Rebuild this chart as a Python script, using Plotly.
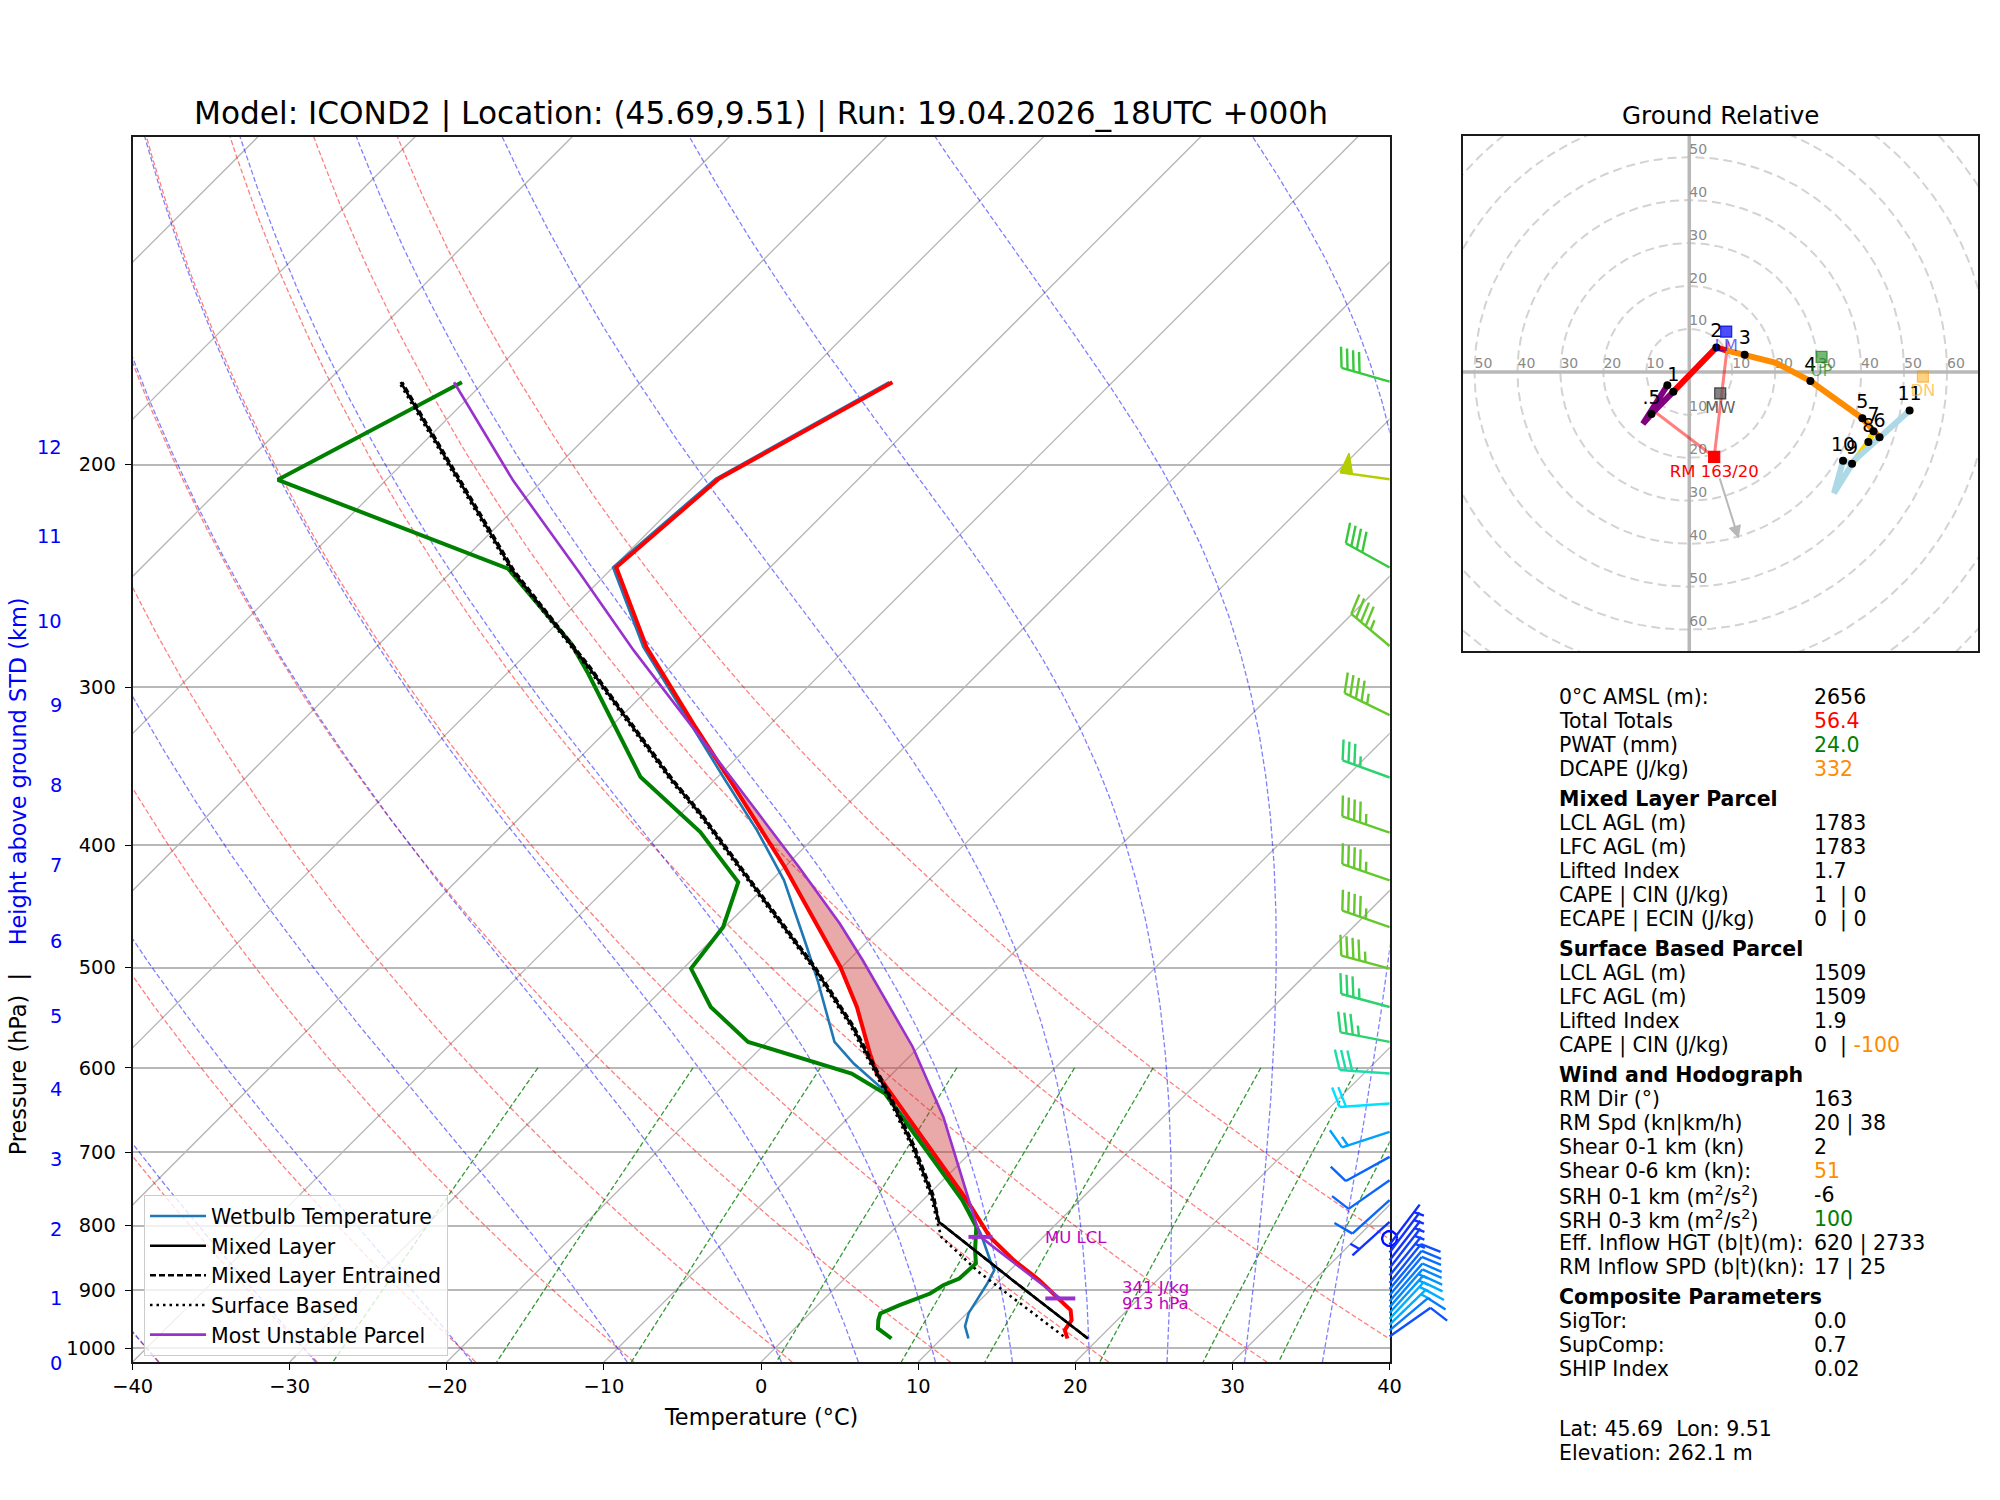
import numpy as np
import plotly.graph_objects as go

# ===================== values =====================
# environment profiles (pressure hPa, temperature degC)
temp_p = [982.5, 967.7, 950.3, 933.1, 916.3, 883.5, 851.9, 816.5, 763.7, 701.5,
          628.5, 606.3, 584.7, 537.1, 499.3, 416.2, 355.4, 322.5, 278.8, 241.1,
          205.2, 172.1]
temp_t = [18.0, 17.3, 17.1, 16.4, 15.1, 12.5, 9.6, 6.6, 2.8, -2.3,
          -8.9, -11.0, -12.7, -16.5, -20.1, -30.0, -39.0, -44.6, -52.8, -59.8,
          -58.9, -54.0]
dew_p = [982.5, 964.7, 950.3, 938.7, 924.7, 905.2, 891.6, 880.8, 857.0, 836.5,
         801.8, 763.7, 701.5, 628.9, 606.3, 572.4, 537.1, 500.8, 464.3, 427.8,
         390.5, 353.3, 292.7, 277.1, 241.7, 205.6, 172.1]
dew_t = [6.8, 5.3, 4.8, 4.5, 5.2, 6.4, 6.7, 7.3, 7.4, 6.5,
         5.1, 2.5, -2.6, -9.2, -12.6, -21.2, -25.8, -29.5, -30.1, -32.0,
         -37.6, -44.9, -54.8, -57.8, -66.6, -86.9, -81.4]
wb_p = [982.5, 960.7, 938.2, 916.3, 888.8, 867.6, 851.9, 811.5, 763.7, 701.5,
        623.2, 595.4, 572.4, 511.6, 481.5, 426.4, 389.3, 355.4, 322.5, 278.8,
        241.1, 205.2, 172.1]
wb_t = [11.7, 10.7, 10.1, 9.8, 9.4, 9.0, 8.1, 5.8, 2.6, -2.4,
        -9.7, -13.1, -15.7, -20.7, -23.5, -29.2, -34.1, -39.3, -44.8, -53.0,
        -60.0, -59.1, -54.2]

# parcels
ml_p = [982.5, 883.5, 794.5, 759.1, 693.1, 632.8, 557.0, 499.3, 434.3, 377.6,
        355.4, 289.2, 242.5, 200.9, 172.1]
ml_t = [19.3, 10.8, 2.4, 0.4, -4.0, -8.7, -15.5, -21.8, -30.3, -38.8,
        -42.7, -55.2, -66.2, -76.7, -85.3]
mle_p = [982.5, 883.5, 794.5, 759.1, 693.1, 632.8, 557.0, 499.3, 434.3, 377.6,
         355.4, 289.2, 242.5, 200.9, 172.1]
mle_t = [19.3, 10.8, 2.4, 0.5, -3.9, -8.6, -15.4, -21.7, -30.2, -38.7,
         -42.6, -55.1, -66.1, -76.6, -85.2]
sb_p = [978.4, 870.2, 816.5, 794.5, 759.1, 693.1, 632.8, 557.0, 499.3, 434.3,
        377.6, 355.4, 289.2, 242.5, 200.9, 172.1]
sb_t = [17.6, 8.1, 3.5, 2.3, 0.3, -4.1, -8.8, -15.6, -21.9, -30.4,
        -38.9, -42.8, -55.3, -66.3, -76.8, -85.4]
mu_p = [913.4, 816.5, 768.3, 656.2, 577.7, 493.3, 461.4, 416.2, 355.4, 280.5,
        243.9, 205.8, 172.1]
mu_t = [15.0, 6.0, 3.2, -4.0, -10.4, -19.1, -22.9, -29.1, -38.8, -53.4,
        -61.7, -71.9, -81.9]
mu_lcl_p = 816.5
mu_label_lcl = "MU LCL"
mu_label_cape = "341 J/kg"
mu_label_p = "913 hPa"

# wind barbs (pressure hPa, speed kn, direction deg)
barb_p = [171.9, 205.4, 241.2, 278.3, 315.6, 353.6, 391.0, 426.5, 464.3, 500.8,
          537.1, 572.4, 606.3, 640.4, 674.4, 705.7, 736.4, 763.7, 794.5, 818.9,
          828, 840, 852, 864, 876, 888, 898, 908, 918, 928, 938, 948, 958, 968, 979]
barb_spd = [40, 50, 40, 45, 45, 35, 45, 45, 45, 45,
            35, 35, 30, 20, 15, 10, 10, 10, 5, 0,
            4, 5, 5, 6, 7, 8, 10, 11, 12, 13, 14, 16, 16, 12, 8]
barb_dir = [286, 278, 299, 310, 296, 290, 289, 289, 289, 285,
            285, 281, 274, 266, 252, 241, 235, 228, 228, 0,
            37, 37, 38, 38, 39, 39, 40, 40, 41, 41, 42, 43, 46, 50, 55]

# height labels (km above ground, std atmosphere) and their pressure
height_km = [0, 1, 2, 3, 4, 5, 6, 7, 8, 9, 10, 11, 12]
height_p = [1028, 914, 806, 709, 624, 547, 477, 415, 359, 310, 266, 228, 194]

# hodograph (height km, u kn, v kn)
hodo_h = [0, 0.25, 0.5, 1, 1.5, 2, 2.5, 3, 3.5, 4, 5, 6, 7, 8, 9, 10, 10.5, 10.75, 11]
hodo_u = [-5.1, -10.8, -8.8, -3.7, 1.9, 6.3, 8.6, 12.9, 20.2, 28.2, 40.3, 44.3, 42.9, 41.7,
          37.9, 35.8, 33.7, 38.5, 51.3]
hodo_v = [-3.1, -12.1, -9.8, -4.6, 1.3, 5.7, 5.0, 4.0, 2.1, -2.1, -10.8, -15.2, -13.8, -16.3,
          -21.4, -20.7, -28.2, -20.5, -9.0]
hodo_dot_h = [0, 0.5, 1, 2, 3, 4, 5, 6, 7, 8, 9, 10, 11]
hodo_dot_lab = ["", ".5", "1", "2", "3", "4", "5", "6", "7", "8", "9", "10", "11"]
hodo_layers_h = [0, 1, 2.5, 7, 9, 11]
hodo_layers_c = ["#800080", "#ff0000", "#ff8c00", "#ffd700", "#add8e6"]

storm_names = ["RM", "LM", "MW", "UP", "DN"]
storm_u = [5.8, 8.6, 7.2, 30.8, 54.4]
storm_v = [-19.8, 9.4, -5.0, 3.5, -1.1]
rm_text = "RM 163/20"
inflow_u = [-8.1, 9.0]
inflow_v = [-9.2, 7.1]
dev_u = [6.9, 11.5]
dev_v = [-24.2, -38.8]

stat_rows = [
    ("0°C AMSL (m):", "2656", "black"),
    ("Total Totals", "56.4", "#ff0000"),
    ("PWAT (mm)", "24.0", "#008000"),
    ("DCAPE (J/kg)", "332", "#ff8c00"),
    ("<b>Mixed Layer Parcel</b>", "", None),
    ("LCL AGL (m)", "1783", "black"),
    ("LFC AGL (m)", "1783", "black"),
    ("Lifted Index", "1.7", "black"),
    ("CAPE | CIN (J/kg)", "1\u00a0\u00a0| 0", "black"),
    ("ECAPE | ECIN (J/kg)", "0\u00a0\u00a0| 0", "black"),
    ("<b>Surface Based Parcel</b>", "", None),
    ("LCL AGL (m)", "1509", "black"),
    ("LFC AGL (m)", "1509", "black"),
    ("Lifted Index", "1.9", "black"),
    ("CAPE | CIN (J/kg)", "0\u00a0\u00a0| <span style='color:#ff8c00'>-100</span>", "black"),
    ("<b>Wind and Hodograph</b>", "", None),
    ("RM Dir (°)", "163", "black"),
    ("RM Spd (kn|km/h)", "20 | 38", "black"),
    ("Shear 0-1 km (kn)", "2", "black"),
    ("Shear 0-6 km (kn):", "51", "#ff8c00"),
    ("SRH 0-1 km (m<sup>2</sup>/s<sup>2</sup>)", "-6", "black"),
    ("SRH 0-3 km (m<sup>2</sup>/s<sup>2</sup>)", "100", "#008000"),
    ("Eff. Inflow HGT (b|t)(m):", "620 | 2733", "black"),
    ("RM Inflow SPD (b|t)(kn):", "17 | 25", "black"),
    ("<b>Composite Parameters</b>", "", None),
    ("SigTor:", "0.0", "black"),
    ("SupComp:", "0.7", "black"),
    ("SHIP Index", "0.02", "black"),
]
foot_rows = ["Lat: 45.69\u00a0\u00a0Lon: 9.51", "Elevation: 262.1 m"]
title_text = "Model: ICOND2 | Location: (45.69,9.51) | Run: 19.04.2026_18UTC +000h"

dry_t0 = list(range(-40, 51, 10))
moist_t0 = [-40, -30, -20, -10, 0, 5, 10, 15, 20, 25, 30, 35, 40]
mix_w = [0.0004, 0.001, 0.002, 0.004, 0.007, 0.01, 0.016, 0.024, 0.032]
x_ticks = list(range(-40, 41, 10))
p_ticks = [1000, 900, 800, 700, 600, 500, 400, 300, 200]

# ===================== geometry =====================
W, H = 2000, 1500
FONT = "DejaVu Sans"
AX_L, AX_R, AX_T, AX_B = 132.6, 1389.6, 136.5, 1362.0
P_BOT, P_TOP = 1025.5, 110.0
TMIN, TMAX = -40.0, 40.0
PX_DEG = (AX_R - AX_L) / (TMAX - TMIN)
PX_LN = (AX_B - AX_T) / np.log(P_BOT / P_TOP)
SKEW = PX_LN / PX_DEG
HX_L, HX_R, HY_T, HY_B = 1462.5, 1977.9, 135.7, 651.1
HALF = 60.0
STAT_LX, STAT_VX = 1557.0, 1811.5


def skx(t, p):
    return np.asarray(t, float) + SKEW * np.log(P_BOT / np.asarray(p, float))


def pix_y(p):
    return AX_B - PX_LN * np.log(P_BOT / np.asarray(p, float))


def pix_x(t, p):
    return AX_L + (skx(t, p) - TMIN) * PX_DEG


def interp_prof(pp, tt, q):
    pp = np.asarray(pp, float)
    tt = np.asarray(tt, float)
    o = np.argsort(pp)
    return np.interp(np.log(q), np.log(pp[o]), tt[o])


fig = go.Figure()


def add_main(x, y, **kw):
    kw.setdefault("showlegend", False)
    fig.add_trace(go.Scatter(x=x, y=y, xaxis="x", yaxis="y", hoverinfo="skip", **kw))


def add_pix(x, y, **kw):
    fig.add_trace(go.Scatter(x=x, y=y, xaxis="x3", yaxis="y3", hoverinfo="skip",
                             showlegend=False, **kw))


def add_hodo(x, y, **kw):
    fig.add_trace(go.Scatter(x=x, y=y, xaxis="x2", yaxis="y2", hoverinfo="skip",
                             showlegend=False, **kw))


def joined(lines):
    xs, ys = [], []
    for lx, ly in lines:
        xs += list(lx) + [None]
        ys += list(ly) + [None]
    return xs, ys


# ---------- background: isotherms ----------
iso = []
for t in range(-160, 50, 10):
    iso.append(([skx(t, P_BOT), skx(t, P_TOP)], [P_BOT, P_TOP]))
x_, y_ = joined(iso)
add_main(x_, y_, mode="lines", line=dict(color="#b5b5b5", width=1.3))

pgrid = np.geomspace(P_BOT, P_TOP, 120)

# ---------- dry adiabats ----------
dry = []
for t0 in dry_t0:
    tt = (t0 + 273.15) * (pgrid / 1000.0) ** 0.2857 - 273.15
    dry.append((skx(tt, pgrid), pgrid))
x_, y_ = joined(dry)
add_main(x_, y_, mode="lines", line=dict(color="rgba(255,0,0,0.5)", width=1.3, dash="5px,2.5px"))

# ---------- moist adiabats ----------
Rd, Cp, Lv, EPS = 287.04749, 1005.7, 2.50084e6, 0.622


def es_hpa(T):
    return 6.112 * np.exp(17.67 * (T - 273.15) / (T - 29.65))


def dtdp(T, p):
    e = es_hpa(T)
    rs = EPS * e / (p - e)
    return (Rd * T + Lv * rs) / (Cp + Lv * Lv * rs * EPS / (Rd * T * T)) / p


def integrate(T0, ps):
    T = np.array(T0, float)
    out = [T.copy()]
    for i in range(1, len(ps)):
        p0, p1 = ps[i - 1], ps[i]
        h = p1 - p0
        k1 = dtdp(T, p0)
        k2 = dtdp(T + 0.5 * h * k1, p0 + 0.5 * h)
        k3 = dtdp(T + 0.5 * h * k2, p0 + 0.5 * h)
        k4 = dtdp(T + h * k3, p1)
        T = T + h / 6.0 * (k1 + 2 * k2 + 2 * k3 + k4)
        out.append(T.copy())
    return np.array(out)


T0 = np.array(moist_t0, float) + 273.15
p_up = np.geomspace(1000.0, P_TOP, 300)
p_dn = np.geomspace(1000.0, P_BOT, 10)
T_up = integrate(T0, p_up)
T_dn = integrate(T0, p_dn)
moist = []
for k in range(len(moist_t0)):
    pp = np.concatenate([p_dn[::-1], p_up[1:]])
    tt = np.concatenate([T_dn[::-1, k], T_up[1:, k]]) - 273.15
    moist.append((skx(tt, pp), pp))
x_, y_ = joined(moist)
add_main(x_, y_, mode="lines", line=dict(color="rgba(0,0,255,0.5)", width=1.3, dash="5px,2.5px"))

# ---------- mixing ratio lines ----------
pm = np.linspace(600, P_BOT, 40)
mix = []
for w in mix_w:
    e = pm * w / (EPS + w)
    lg = np.log(e / 6.112)
    td = 243.5 * lg / (17.67 - lg)
    mix.append((skx(td, pm), pm))
x_, y_ = joined(mix)
add_main(x_, y_, mode="lines", line=dict(color="rgba(0,128,0,0.8)", width=1.3, dash="5px,2.5px"))

# ---------- CAPE shading (MU parcel warmer than environment) ----------
pg = np.geomspace(900, 300, 400)
t_env = interp_prof(temp_p, temp_t, pg)
t_par = interp_prof(mu_p, mu_t, pg)
idx = np.where(t_par > t_env)[0]
if len(idx):
    seg = idx
    fx = list(skx(t_par[seg], pg[seg])) + list(skx(t_env[seg][::-1], pg[seg][::-1]))
    fy = list(pg[seg]) + list(pg[seg][::-1])
    add_main(fx, fy, mode="lines", fill="toself", fillcolor="rgba(205,50,50,0.42)",
             line=dict(width=0))

# ---------- profiles ----------
add_main(skx(wb_t, wb_p), wb_p, mode="lines", name="Wetbulb Temperature",
         line=dict(color="#1f77b4", width=2.6), showlegend=True)
add_main(skx(dew_t, dew_p), dew_p, mode="lines", line=dict(color="#008000", width=4))
add_main(skx(temp_t, temp_p), temp_p, mode="lines", line=dict(color="#ff0000", width=4))
add_main(skx(ml_t, ml_p), ml_p, mode="lines", name="Mixed Layer",
         line=dict(color="black", width=2.6), showlegend=True)
add_main(skx(mle_t, mle_p), mle_p, mode="lines", name="Mixed Layer Entrained",
         line=dict(color="black", width=2.6, dash="6px,3px"), showlegend=True)
add_main(skx(sb_t, sb_p), sb_p, mode="lines", name="Surface Based",
         line=dict(color="black", width=2.6, dash="2.5px,4px"), showlegend=True)
add_main(skx(mu_t, mu_p), mu_p, mode="lines", name="Most Unstable Parcel",
         line=dict(color="#9932cc", width=2.6), showlegend=True)

# ---------- MU markers ----------
t_lcl = float(interp_prof(mu_p, mu_t, [mu_lcl_p])[0])
xl, yl = float(pix_x(t_lcl, mu_lcl_p)), float(pix_y(mu_lcl_p))
xs0, ys0 = float(pix_x(mu_t[0], mu_p[0])), float(pix_y(mu_p[0]))
add_pix([xl - 12, xl + 12, None, xs0 - 15, xs0 + 15], [yl, yl, None, ys0, ys0],
        mode="lines", line=dict(color="#9932cc", width=4))

annotations = []


def ann(x, y, text, size, color="black", xanchor="center", yanchor="middle", **kw):
    annotations.append(dict(x=x / W, y=1 - y / H, xref="paper", yref="paper", text=text,
                            showarrow=False, xanchor=xanchor, yanchor=yanchor,
                            font=dict(family=FONT, size=size, color=color), **kw))


ann(xl + 63, yl + 1, mu_label_lcl, 16.5, "#c000c0", xanchor="left")
ann(xs0 + 60, ys0 - 11, mu_label_cape, 16.5, "#c000c0", xanchor="left")
ann(xs0 + 60, ys0 + 5.5, mu_label_p, 16.5, "#c000c0", xanchor="left")

# ---------- wind barbs ----------
BL = 50.0
stops_s = [0, 5, 10, 15, 20, 25, 30, 35, 40, 45, 50, 60]
stops_c = [(0, 16, 255), (20, 50, 255), (10, 100, 255), (0, 160, 255), (0, 225, 255),
           (0, 230, 210), (30, 220, 170), (45, 210, 110), (55, 200, 60), (100, 200, 45),
           (180, 205, 0), (230, 210, 0)]


def spd_color(s):
    s = min(max(s, 0), 60)
    r = np.interp(s, stops_s, [c[0] for c in stops_c])
    g = np.interp(s, stops_s, [c[1] for c in stops_c])
    b = np.interp(s, stops_s, [c[2] for c in stops_c])
    return "rgb(%d,%d,%d)" % (r, g, b)


for p, s, d in zip(barb_p, barb_spd, barb_dir):
    x0, y0 = AX_R, float(pix_y(p))
    col = spd_color(s)
    if s < 2.5:
        th = np.linspace(0, 2 * np.pi, 40)
        add_pix(x0 + 0.15 * BL * np.cos(th), y0 + 0.15 * BL * np.sin(th), mode="lines",
                line=dict(color=col, width=2.4))
        continue
    rad = np.radians(d)
    sx, sy = np.sin(rad), -np.cos(rad)
    nx, ny = np.cos(rad), np.sin(rad)

    def P(t, h):
        return (x0 + t * sx + h * nx, y0 + t * sy + h * ny)

    mag = 5 * np.round(s / 5.0)
    nflag = int(mag // 50)
    rem = mag - 50 * nflag
    nbarb = int(rem // 10)
    half = (rem - 10 * nbarb) >= 5
    fh, fw, sp = 0.4 * BL, 0.25 * BL, 0.125 * BL
    lines = [[P(0, 0), P(BL, 0)]]
    flags = []
    off = BL
    for i in range(nflag):
        if off != BL:
            off += sp / 2
        flags.append([P(off, 0), P(off - fw / 2, fh), P(off - fw, 0), P(off, 0)])
        off -= fw + sp
    for i in range(nbarb):
        lines.append([P(off, 0), P(off + fw / 2, fh)])
        off -= sp
    if half:
        if off == BL:
            off -= 1.5 * sp
        lines.append([P(off, 0), P(off + fw / 4, fh / 2)])
    lx, ly = [], []
    for ln in lines:
        lx += [q[0] for q in ln] + [None]
        ly += [q[1] for q in ln] + [None]
    add_pix(lx, ly, mode="lines", line=dict(color=col, width=2.4))
    for fl in flags:
        add_pix([q[0] for q in fl], [q[1] for q in fl], mode="lines", fill="toself",
                fillcolor=col, line=dict(color=col, width=1.5))

# ---------- hodograph ----------
th = np.linspace(0, 2 * np.pi, 361)
rings = [(r * np.cos(th), r * np.sin(th)) for r in range(10, 100, 10)]
x_, y_ = joined(rings)
add_hodo(x_, y_, mode="lines", line=dict(color="#d3d3d3", width=2, dash="9px,5px"))
add_hodo([-200, 200, None, 0, 0], [0, 0, None, -200, 200], mode="lines",
         line=dict(color="#b8b8b8", width=3.5))

rl_x, rl_y, rl_t = [], [], []
for r in range(10, 70, 10):
    for (ux, vy) in [(r, 0), (-r, 0), (0, r), (0, -r)]:
        if storm_u[2] - HALF < ux < storm_u[2] + HALF - 4 and storm_v[2] - HALF < vy < storm_v[2] + HALF - 3:
            rl_x.append(ux)
            rl_y.append(vy)
            rl_t.append(str(r))
add_hodo(rl_x, rl_y, mode="text", text=rl_t, textposition="top right",
         textfont=dict(family=FONT, size=14, color="#8a8a8a"))

# RM inflow lines
add_hodo([inflow_u[0], storm_u[0], inflow_u[1]], [inflow_v[0], storm_v[0], inflow_v[1]],
         mode="lines", line=dict(color="rgba(255,0,0,0.5)", width=3))

for k in range(len(hodo_layers_c)):
    h0, h1 = hodo_layers_h[k], hodo_layers_h[k + 1]
    hs = [h0] + [h for h in hodo_h if h0 < h < h1] + [h1]
    us = np.interp(hs, hodo_h, hodo_u)
    vs = np.interp(hs, hodo_h, hodo_v)
    add_hodo(us, vs, mode="lines", line=dict(color=hodo_layers_c[k], width=6))

du = np.interp(hodo_dot_h, hodo_h, hodo_u)
dv = np.interp(hodo_dot_h, hodo_h, hodo_v)
add_hodo(du, dv, mode="markers", marker=dict(color="black", size=8))
lab_idx = [i for i, t in enumerate(hodo_dot_lab) if t]
add_hodo([du[i] for i in lab_idx], [dv[i] + 3.5 for i in lab_idx], mode="text",
         text=[hodo_dot_lab[i] for i in lab_idx], textposition="middle center",
         textfont=dict(family=FONT, size=19, color="black"))

storm_fill = ["#ff0000", "rgba(0,0,255,0.7)", "rgba(90,90,90,0.75)", "rgba(0,128,0,0.55)",
              "rgba(255,165,0,0.5)"]
storm_edge = ["#ff0000", "rgba(0,0,200,0.8)", "rgba(40,40,40,0.8)", "rgba(0,100,0,0.6)",
              "rgba(255,140,0,0.5)"]
storm_txt = ["#ff0000", "rgba(0,0,255,0.6)", "rgba(80,80,80,0.9)", "rgba(0,128,0,0.6)",
             "rgba(255,165,0,0.6)"]
for k, nm in enumerate(storm_names):
    add_hodo([storm_u[k]], [storm_v[k]], mode="markers",
             marker=dict(symbol="square", size=11, color=storm_fill[k],
                         line=dict(color=storm_edge[k], width=1.2)))
    add_hodo([storm_u[k]], [storm_v[k] - 3.6], mode="text",
             text=[rm_text if nm == "RM" else nm], textposition="middle center",
             textfont=dict(family=FONT, size=16.5, color=storm_txt[k]))

annotations.append(dict(x=dev_u[1], y=dev_v[1], ax=dev_u[0], ay=dev_v[0], xref="x2", yref="y2",
                        axref="x2", ayref="y2", showarrow=True, arrowhead=2, arrowsize=1.3,
                        arrowwidth=2, arrowcolor="#b8b8b8", text=" ", font=dict(size=2)))

# ---------- texts ----------
ann((AX_L + AX_R) / 2, 113.5, title_text, 31.2)
ann((HX_L + HX_R) / 2, 115.5, "Ground Relative", 24.6)
ann((AX_L + AX_R) / 2, 1417, "Temperature (°C)", 22.4)
ann(18.3, 1064, "Pressure (hPa)\u00a0\u00a0|", 22.4, textangle=-90)
ann(18.3, 771, "Height above ground STD (km)", 22.4, "#0000ff", textangle=-90)
for km, p in zip(height_km, height_p):
    ann(64, float(pix_y(p)), str(km), 19.4, "#0000ff", xanchor="right")

y0 = 697.3
for lab, val, col in stat_rows:
    if lab.startswith("<b>"):
        y0 += 6
    ann(STAT_LX, y0, lab, 20.5, xanchor="left")
    if val:
        ann(STAT_VX, y0, val, 20.5, col, xanchor="left")
    y0 += 24
ann(STAT_LX, 1429.3, foot_rows[0], 20.5, xanchor="left")
ann(STAT_LX, 1452.7, foot_rows[1], 20.5, xanchor="left")

# ---------- layout ----------
mw_u, mw_v = storm_u[2], storm_v[2]
fig.update_layout(
    width=W, height=H, margin=dict(l=0, r=0, t=0, b=0, pad=0, autoexpand=False),
    paper_bgcolor="white", plot_bgcolor="rgba(0,0,0,0)",
    font=dict(family=FONT, size=19, color="black"),
    hovermode=False,
    annotations=annotations,
    xaxis=dict(domain=[AX_L / W, AX_R / W], range=[TMIN, TMAX], anchor="y", automargin=False,
               tickvals=x_ticks, ticks="outside", ticklen=6, tickwidth=1.3, tickcolor="black",
               tickfont=dict(size=19.4), showgrid=False, zeroline=False,
               showline=True, mirror=True, linecolor="#1a1a1a", linewidth=2),
    yaxis=dict(domain=[1 - AX_B / H, 1 - AX_T / H], type="log", anchor="x", automargin=False,
               range=[np.log10(P_BOT), np.log10(P_TOP)],
               tickvals=p_ticks, ticktext=[str(v) for v in p_ticks], ticks="outside",
               ticklen=6, tickwidth=1.3, tickcolor="black", tickfont=dict(size=19.4),
               ticklabelstandoff=5,
               showgrid=True, gridcolor="#b8b8b8", gridwidth=1.8, zeroline=False,
               showline=True, mirror=True, linecolor="#1a1a1a", linewidth=2),
    xaxis2=dict(domain=[HX_L / W, HX_R / W], range=[mw_u - HALF, mw_u + HALF], anchor="y2",
                automargin=False, showticklabels=False, ticks="", showgrid=False, zeroline=False,
                showline=True, mirror=True, linecolor="#1a1a1a", linewidth=2),
    yaxis2=dict(domain=[1 - HY_B / H, 1 - HY_T / H], range=[mw_v - HALF, mw_v + HALF], anchor="x2",
                automargin=False, showticklabels=False, ticks="", showgrid=False, zeroline=False,
                showline=True, mirror=True, linecolor="#1a1a1a", linewidth=2),
    xaxis3=dict(domain=[0, 1], range=[0, W], anchor="y3", visible=False, automargin=False),
    yaxis3=dict(domain=[0, 1], range=[H, 0], anchor="x3", visible=False, automargin=False),
    legend=dict(x=143.8 / W, y=1 - 1195 / H, xanchor="left", yanchor="top",
                bgcolor="rgba(255,255,255,0.8)", bordercolor="#cccccc", borderwidth=1.2,
                font=dict(family=FONT, size=20.5, color="black"), itemwidth=56,
                tracegroupgap=0),
)

fig.write_html("out.html")
